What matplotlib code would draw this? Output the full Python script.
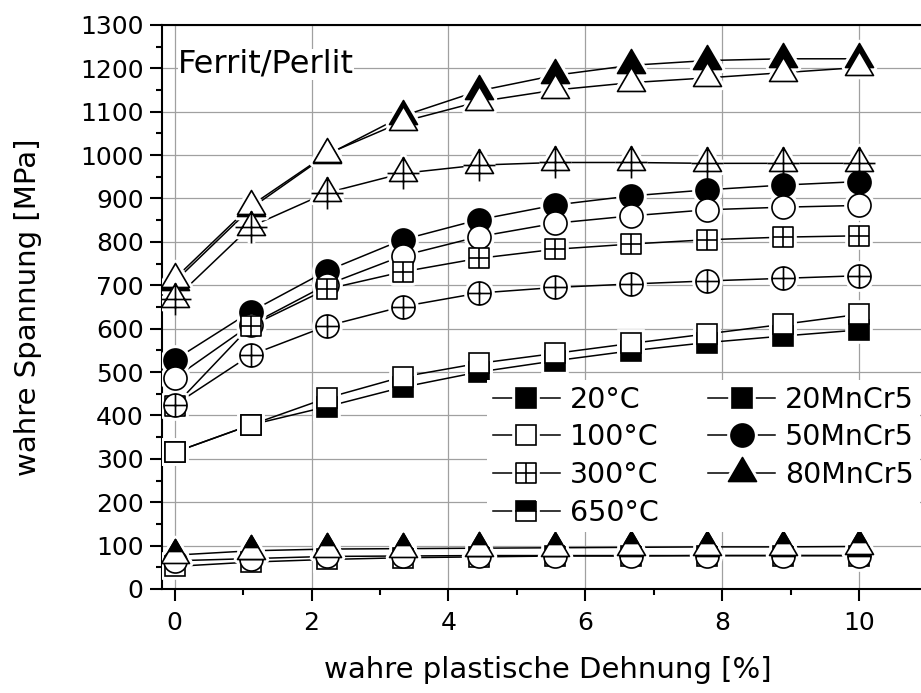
import matplotlib
matplotlib.use("Agg")
import matplotlib.pyplot as plt
from matplotlib.path import Path
from matplotlib.lines import Line2D
from matplotlib.legend_handler import HandlerTuple
from matplotlib.ticker import MultipleLocator

# true plastic strain [%]
strain = [0, 1.11, 2.22, 3.33, 4.44, 5.56, 6.67, 7.78, 8.89, 10]

# true stress [MPa], 20MnCr5
mn20_20c = [315, 378, 420, 465, 500, 526, 549, 568, 583, 597]
mn20_100c = [315, 378, 440, 489, 520, 543, 566, 588, 610, 633]
mn20_300c = [422, 606, 691, 731, 762, 783, 795, 805, 811, 814]
mn20_650c = [52, 62, 68, 72, 74, 76, 76, 77, 77, 77]

# 50MnCr5
mn50_20c = [528, 639, 733, 805, 851, 885, 906, 920, 931, 939]
mn50_100c = [486, 609, 701, 768, 812, 843, 860, 874, 880, 884]
mn50_300c = [424, 539, 606, 651, 682, 695, 703, 710, 716, 722]
mn50_650c = [65, 70, 75, 76, 77, 77, 77, 77, 77, 77]

# 80MnCr5
mn80_20c = [708, 877, 1000, 1090, 1148, 1184, 1207, 1218, 1222, 1222]
mn80_100c = [715, 883, 1002, 1077, 1123, 1150, 1167, 1178, 1190, 1202]
mn80_300c = [668, 835, 913, 958, 977, 983, 983, 981, 981, 981]
mn80_650c = [78, 88, 92, 93, 94, 95, 96, 97, 97, 98]

temps = ['20°C', '100°C', '300°C', '650°C']
grades = ['20MnCr5', '50MnCr5', '80MnCr5']

stress = {
    ('20MnCr5', '20°C'): mn20_20c, ('20MnCr5', '100°C'): mn20_100c,
    ('20MnCr5', '300°C'): mn20_300c, ('20MnCr5', '650°C'): mn20_650c,
    ('50MnCr5', '20°C'): mn50_20c, ('50MnCr5', '100°C'): mn50_100c,
    ('50MnCr5', '300°C'): mn50_300c, ('50MnCr5', '650°C'): mn50_650c,
    ('80MnCr5', '20°C'): mn80_20c, ('80MnCr5', '100°C'): mn80_100c,
    ('80MnCr5', '300°C'): mn80_300c, ('80MnCr5', '650°C'): mn80_650c,
}

# marker shapes: triangle sits on its centroid, crossed variants get a "+"
M, L, C = Path.MOVETO, Path.LINETO, Path.CLOSEPOLY
tri = Path([(0, 16), (-14, -8), (14, -8), (0, 16)], [M, L, L, C])
tri_top = Path([(0, 16), (-7, 4), (7, 4), (0, 16)], [M, L, L, C])
tri_cross = Path.make_compound_path(
    tri, Path([(0, 16), (0, -16), (-16, 0), (16, 0)], [M, L, M, L]))
plus = Path([(0, 1), (0, -1), (-1, 0), (1, 0)], [M, L, M, L])
sq_cross = Path.make_compound_path(
    Path([(-1, -1), (1, -1), (1, 1), (-1, 1), (-1, -1)], [M, L, L, L, C]), plus)
ci_cross = Path.make_compound_path(Path.unit_circle(), plus)

shapes = {
    '20MnCr5': ('s', sq_cross, 14.4),
    '50MnCr5': ('o', ci_cross, 16.6),
    '80MnCr5': (tri, tri_cross, 23),
}
LW = 1.1
MEW = 1.2
GAP_MEW = 5.5


def layers(grade, temp):
    plain, crossed, ms = shapes[grade]
    edge = dict(ms=ms, mec='black', mew=MEW, ls='none')
    if temp == '20°C':
        return [dict(marker=plain, mfc='black', **edge)]
    if temp == '100°C':
        return [dict(marker=plain, mfc='white', **edge)]
    if temp == '300°C':
        return [dict(marker=crossed, mfc='white', **edge)]
    if grade == '80MnCr5':
        return [dict(marker=tri, mfc='white', **edge),
                dict(marker=tri_top, mfc='black', **edge)]
    return [dict(marker=plain, fillstyle='top', mfc='black',
                 markerfacecoloralt='white', **edge)]


def gap(grade, temp):
    # white outline under the marker so the line stops short of it
    lay = layers(grade, temp)[0]
    return dict(marker=lay['marker'], ms=lay['ms'], mfc='white', mec='white',
                mew=GAP_MEW, ls='none')


fig = plt.figure(figsize=(9.21, 6.93), dpi=100)
ax = fig.add_axes([0.1754, 0.1501, 0.8246, 0.8139])

for k, temp in enumerate(temps):
    for j, grade in enumerate(grades):
        y = stress[grade, temp]
        ax.plot(strain, y, color='black', lw=LW, zorder=2)
        ax.plot(strain, y, zorder=3, **gap(grade, temp))
        for lay in layers(grade, temp):
            ax.plot(strain, y, zorder=4 + k + 0.1 * j, **lay)

ax.set_xlim(-0.191, 10.904)
ax.set_ylim(0, 1300)
ax.xaxis.set_major_locator(MultipleLocator(2))
ax.xaxis.set_minor_locator(MultipleLocator(1))
ax.yaxis.set_major_locator(MultipleLocator(100))
ax.yaxis.set_minor_locator(MultipleLocator(50))
ax.grid(True, which='major', color='#a0a0a0', lw=0.9)
ax.set_axisbelow(True)

ax.tick_params(which='both', direction='out', width=1.5, labelsize=18)
ax.tick_params(which='major', length=8.4)
ax.tick_params(which='minor', length=4.3)
ax.tick_params(axis='x', pad=7.5)
ax.tick_params(axis='y', pad=4.5)
for side in ['left', 'bottom', 'top']:
    ax.spines[side].set_linewidth(1.5)
ax.spines['right'].set_visible(False)

ax.set_xlabel('wahre plastische Dehnung [%]', fontsize=21)
ax.xaxis.set_label_coords(0.509, -0.118)
ax.set_ylabel('wahre Spannung [MPa]', fontsize=21)
ax.yaxis.set_label_coords(-0.157, 0.5)

ax.text(0.0217, 0.915, 'Ferrit/Perlit', transform=ax.transAxes, fontsize=23,
        ha='left', va='baseline', zorder=10,
        bbox=dict(facecolor='white', edgecolor='none', pad=0))


# legend: temperatures (fill style) and steel grades (shape)
def handle(grade, temp):
    items = [Line2D([], [], color='black', lw=LW), Line2D([], [], **gap(grade, temp))]
    items += [Line2D([], [], **lay) for lay in layers(grade, temp)]
    return tuple(items)


handles = [handle('20MnCr5', t) for t in temps] + [handle(g, '20°C') for g in grades]
leg = ax.legend(handles, temps + grades,
                handler_map={tuple: HandlerTuple(ndivide=1, pad=0)},
                ncol=2, loc='upper left', bbox_to_anchor=(487 / 921, 1 - 380 / 693),
                bbox_transform=fig.transFigure, fontsize=20.5,
                frameon=True, fancybox=False, edgecolor='none', facecolor='white',
                framealpha=1, borderpad=0.2, borderaxespad=0,
                handlelength=2.35, handletextpad=0.35, columnspacing=1.75,
                labelspacing=0.34)
leg.set_zorder(10)

fig.savefig('out.png', dpi=100)
plt.close(fig)
